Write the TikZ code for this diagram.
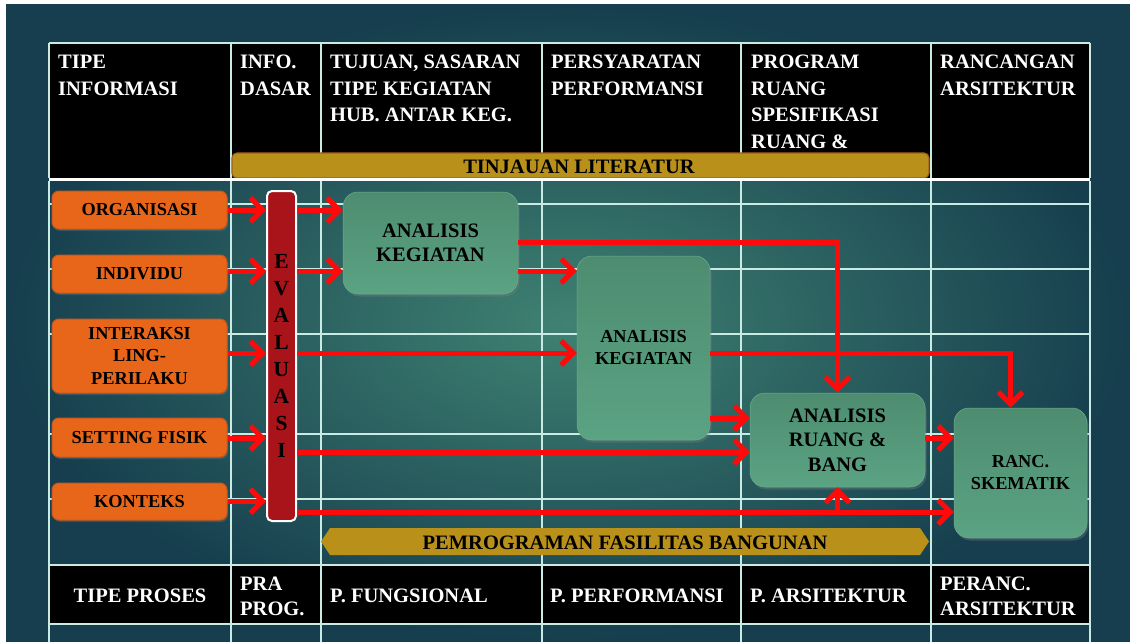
\documentclass[tikz,border=0pt]{standalone}
\usepackage{fontspec}
\setmainfont{Liberation Serif}
\usetikzlibrary{arrows.meta,shadows,calc}

\definecolor{bgin}{HTML}{3F8272}
\definecolor{bgout}{HTML}{163E4E}
\definecolor{gold}{HTML}{B8901A}
\definecolor{goldedge}{HTML}{A8601A}
\definecolor{orangebox}{HTML}{E8661A}
\definecolor{orangeedge}{HTML}{C8581E}
\definecolor{greentop}{HTML}{4E8C70}
\definecolor{greenbot}{HTML}{5AA383}
\definecolor{evalred}{HTML}{A8141A}
\definecolor{arrowred}{HTML}{FF0A0A}
\definecolor{gridc}{HTML}{C8ECE4}

\newcommand\hdrfont{\fontsize{20.5}{26.5}\selectfont\bfseries}
\newcommand\ftrfont{\fontsize{20.5}{25}\selectfont\bfseries}
\newcommand\obxfont{\fontsize{18.3}{22.5}\selectfont\bfseries}
\newcommand\gbigfont{\fontsize{20.5}{24.5}\selectfont\bfseries}
\newcommand\gsmlfont{\fontsize{18.3}{22}\selectfont\bfseries}
\newcommand\evfont{\fontsize{21.5}{27}\selectfont\bfseries}

\begin{document}
\begin{tikzpicture}[x=1pt,y=-1pt,
  gridl/.style={draw=gridc, line width=1.3pt},
  hdr/.style={text=white, font=\hdrfont, align=left, anchor=north west, inner sep=0pt},
  ftr/.style={text=white, font=\ftrfont, align=left, anchor=west, inner sep=0pt},
  obox/.style={rectangle, rounded corners=7pt, fill=orangebox, draw=orangeedge, line width=1pt,
    minimum width=175pt, text=black, font=\obxfont, align=center, inner sep=0pt,
    drop shadow={opacity=0.3, shadow xshift=1pt, shadow yshift=-2pt}},
  gbox/.style={rectangle, rounded corners=15pt, top color=greentop, bottom color=greenbot,
    draw=greenbot!90!white, line width=0.5pt, text=black, align=center, inner sep=0pt,
    drop shadow={opacity=0.35, shadow xshift=1.5pt, shadow yshift=-2.5pt}},
  evbox/.style={rectangle, rounded corners=5pt, fill=evalred, draw=white, line width=2pt,
    minimum width=29pt, minimum height=330pt, text=black, font=\evfont, align=center, inner sep=0pt},
  barlbl/.style={text=black, font=\hdrfont, inner sep=0pt},
  arr/.style={draw=arrowred, line width=5pt,
    -{Straight Barb[length=12pt,width=24pt,line width=5pt]}}
]
\useasboundingbox (0,0) rectangle (1130,642);
\fill[white] (0,0) rectangle (1130,642);
\shade[inner color=bgin, outer color=bgout] (6,5) rectangle (1130,642);

% header row
\fill[black] (49,43) rectangle (1090,178);
\draw[gridl] (49,43) -- (1090,43);
\foreach \x in {321,542,741} \draw[gridl] (\x,43) -- (\x,153);
\foreach \x in {49,231,931,1090} \draw[gridl] (\x,43) -- (\x,178);
\node[rectangle, rounded corners=5pt, fill=gold, draw=goldedge, line width=1.2pt,
  minimum width=697pt, minimum height=25pt, inner sep=0pt] (tinjbar) at (580.5,165.5) {};
\node[barlbl] (tinj) at (579,166.5) {TINJAUAN LITERATUR};
\draw[white, line width=3pt] (49,179.5) -- (1090,179.5);

\node[hdr] (h1) at (58,55) {TIPE\\INFORMASI};
\node[hdr] (h2) at (240,55) {INFO.\\DASAR};
\node[hdr] (h3) at (330,55) {TUJUAN, SASARAN\\TIPE KEGIATAN\\HUB. ANTAR KEG.};
\node[hdr] (h4) at (551,55) {PERSYARATAN\\PERFORMANSI};
\node[hdr] (h5) at (751,55) {PROGRAM\\RUANG\\SPESIFIKASI\\RUANG \&};
\node[hdr] (h6) at (940,55) {RANCANGAN\\ARSITEKTUR};

% bottom black row
\fill[black] (49,565) rectangle (1090,624);

% body grid
\foreach \x in {49,231,321,542,741,931,1090} \draw[gridl] (\x,181) -- (\x,642);
\foreach \y in {204,269,334,434,499,565,624} \draw[gridl] (49,\y) -- (1090,\y);

% bottom row texts
\node[ftr, anchor=center] (f1) at (140,596) {TIPE PROSES};
\node[ftr] (f2) at (240,596) {PRA\\PROG.};
\node[ftr] (f3) at (330,596) {P. FUNGSIONAL};
\node[ftr] (f4) at (550,596) {P. PERFORMANSI};
\node[ftr] (f5) at (750,596) {P. ARSITEKTUR};
\node[ftr] (f6) at (940,596) {PERANC.\\ARSITEKTUR};

% pemrograman bar
\fill[gold] (321,541.5) -- (330,528) -- (920,528) -- (929,541.5) -- (920,555) -- (330,555) -- cycle;
\node[barlbl] (pemr) at (625,542.5) {PEMROGRAMAN FASILITAS BANGUNAN};

% information boxes
\node[obox, minimum height=38pt] (org) at (139.5,210) {ORGANISASI};
\node[obox, minimum height=38pt] (ind) at (139.5,274) {INDIVIDU};
\node[obox, minimum height=74pt] (inter) at (139.5,356) {INTERAKSI\\LING-\\PERILAKU};
\node[obox, minimum height=39pt] (set) at (139.5,437.5) {SETTING FISIK};
\node[obox, minimum height=37pt] (kon) at (139.5,501.5) {KONTEKS};

\node[evbox] (ev) at (281.5,356) {E\\V\\A\\L\\U\\A\\S\\I};

\node[gbox, font=\gbigfont, minimum width=175pt, minimum height=102pt] (ak1) at (430.5,243) {ANALISIS\\KEGIATAN};
\node[gbox, font=\gsmlfont, minimum width=133pt, minimum height=184pt] (ak2) at (643.5,348) {ANALISIS\\KEGIATAN};
\node[gbox, font=\gbigfont, minimum width=175pt, minimum height=94pt] (arb) at (837.5,440) {ANALISIS\\RUANG \&\\BANG};
\node[gbox, font=\gsmlfont, minimum width=133pt, minimum height=130pt] (rs) at (1020.5,473) {RANC.\\SKEMATIK};

% arrows into evaluasi
\draw[arr] (org.east |- 0,210) -- (ev.west |- 0,210);
\draw[arr] (ind.east |- 0,271) -- (ev.west |- 0,271);
\draw[arr] (inter.east |- 0,353) -- (ev.west |- 0,353);
\draw[arr] (set.east |- 0,438) -- (ev.west |- 0,438);
\draw[arr] (kon.east |- 0,501) -- (ev.west |- 0,501);

% arrows out of evaluasi
\draw[arr] (ev.east |- 0,210) -- (ak1.west |- 0,210);
\draw[arr] (ev.east |- 0,271) -- (ak1.west |- 0,271);
\draw[arr] (ev.east |- 0,353) -- (ak2.west |- 0,353);
\draw[arr] (ev.east |- 0,452) -- (arb.west |- 0,452);
\draw[arr] (ev.east |- 0,512) -- (rs.west |- 0,512);
\coordinate (br) at (arb.south |- 0,512);
\draw[arr] (br) -- (arb.south);

% between analyses
\draw[arr] (ak1.east |- 0,242) -| (arb.north);
\draw[arr] (ak1.east |- 0,271) -- (ak2.west |- 0,271);
\draw[arr] (ak2.east |- 0,353) -| ([xshift=-10pt]rs.north);
\draw[arr] (ak2.east |- 0,418) -- (arb.west |- 0,418);
\draw[arr] (arb.east |- 0,438) -- (rs.west |- 0,438);
\end{tikzpicture}
\end{document}
